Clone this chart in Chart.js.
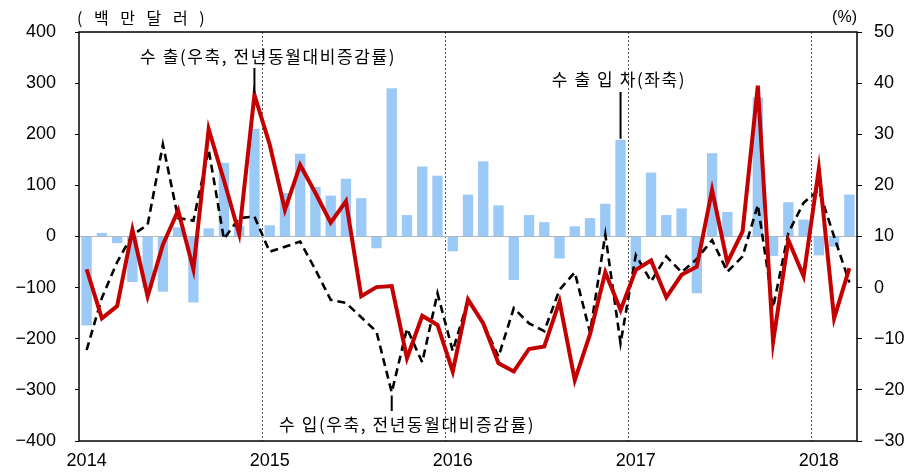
<!DOCTYPE html>
<html>
<head>
<meta charset="utf-8">
<script src="https://cdn.jsdelivr.net/npm/chart.js@4"></script>
<style>
  body { margin: 0; background: #fff; }
  canvas { display: block; }
</style>
</head>
<body>
<canvas id="tradeChart" width="913" height="472"></canvas>
<script>
const years = ["2014", "2015", "2016", "2017", "2018"];
const monthsInLastYear = 3;

// 수출입차 (백만달러, 좌축)
const balance = [
  -174, 7, -13, -89, -100, -108, 18, -129, 16, 144, 21, 211,
  22, 85, 162, 97, 80, 113, 75, -23, 290, 42, 137, 119,
  -29, 82, 147, 61, -85, 42, 28, -43, 20, 36, 64, 189,
  -65, 125, 42, 55, -111, 163, 48, 2, 272, -38, 67, 33,
  -37, -20, 82,
];

// 수출 전년동월대비 증감률 (%, 우축)
const exportGrowth = [
  3.6, -6.0, -3.6, 11.3, -1.7, 8.4, 15.1, 3.6, 31.0, 21.0, 10.5, 37.7,
  28.0, 15.2, 24.0, 18.5, 12.7, 16.9, -1.7, 0.1, 0.3, -13.8, -5.5, -7.3,
  -16.4, -2.3, -7.0, -14.8, -16.4, -12.0, -11.5, -2.7, -18.1, -9.1, 3.0, -4.4,
  3.5, 5.3, -1.9, 2.5, 4.1, 19.1, 4.9, 11.0, 39.5, -10.6, 9.3, 2.2,
  23.2, -6.0, 3.8,
];

// 수입 전년동월대비 증감률 (%, 우축)
const importGrowth = [
  -12.2, -2.0, 5.0, 10.3, 12.3, 28.0, 13.6, 13.1, 27.0, 9.5, 13.6, 13.9,
  7.0, 8.0, 9.0, 3.5, -2.4, -3.0, -5.8, -8.6, -20.5, -8.0, -14.6, -1.1,
  -12.4, -2.5, -7.0, -13.5, -4.0, -7.0, -8.5, -0.4, 3.0, -8.8, 10.4, -10.9,
  6.4, 1.2, 6.1, 3.0, 5.6, 9.3, 3.1, 6.1, 16.2, -3.9, 10.7, 16.6,
  19.1, 10.0, 1.0,
];

const leftTicks = { min: -400, max: 400, step: 100 };
const rightTicks = { min: -30, max: 50, step: 10 };

const labels = [];
years.forEach((y, yi) => {
  const n = yi === years.length - 1 ? monthsInLastYear : 12;
  for (let m = 1; m <= n; m++) labels.push(y + "-" + String(m).padStart(2, "0"));
});

const KR = '"Noto Sans CJK KR", sans-serif';
const NUM = '"Liberation Sans", Arial, sans-serif';

function minus(v) {
  return v < 0 ? "\u2212" + Math.abs(v) : String(v);
}

const annotations = {
  id: "annotations",
  afterDraw(chart) {
    const { ctx, chartArea } = chart;
    const x = chart.scales.x;
    const yR = chart.scales.y1;
    const yL = chart.scales.y;
    ctx.save();

    // frame
    ctx.strokeStyle = "#000";
    ctx.lineWidth = 1.5;
    ctx.strokeRect(chartArea.left, chartArea.top, chartArea.right - chartArea.left, chartArea.bottom - chartArea.top);

    ctx.fillStyle = "#000";
    ctx.textBaseline = "middle";
    ctx.font = "16px " + KR;
    ctx.textAlign = "left";
    ctx.letterSpacing = "4px";
    ctx.fillText("( 백 만 달 러 )", 77, 18);
    ctx.letterSpacing = "0px";
    ctx.textAlign = "right";
    ctx.font = "16px " + NUM;
    ctx.fillText("(%)", 857, 18);

    ctx.font = "17px " + KR;
    ctx.letterSpacing = "1.6px";
    ctx.textAlign = "center";
    ctx.fillText("수 출(우축, 전년동월대비증감률)", 268, 57);
    ctx.fillText("수 출 입 차(좌축)", 619, 80);
    ctx.fillText("수 입(우축, 전년동월대비증감률)", 407, 425);
    ctx.letterSpacing = "0px";

    // leader lines
    ctx.lineWidth = 2;
    ctx.strokeStyle = "#000";
    ctx.beginPath();
    let px = x.getPixelForValue(11);
    ctx.moveTo(px, 68);
    ctx.lineTo(px, yR.getPixelForValue(exportGrowth[11]) - 2);
    px = x.getPixelForValue(35);
    ctx.moveTo(px, 92);
    ctx.lineTo(px, yL.getPixelForValue(balance[35]) - 1);
    px = x.getPixelForValue(20);
    ctx.moveTo(px, yR.getPixelForValue(importGrowth[20]) + 3);
    ctx.lineTo(px, 411);
    ctx.stroke();
    ctx.restore();
  },
};

new Chart(document.getElementById("tradeChart"), {
  data: {
    labels: labels,
    datasets: [
      {
        type: "line",
        label: "수출",
        data: exportGrowth,
        yAxisID: "y1",
        borderColor: "#c40000",
        borderWidth: 4,
        pointRadius: 0,
        tension: 0,
        order: 1,
      },
      {
        type: "line",
        label: "수입",
        data: importGrowth,
        yAxisID: "y1",
        borderColor: "#000",
        borderWidth: 2.6,
        borderDash: [8, 5],
        pointRadius: 0,
        tension: 0,
        order: 2,
      },
      {
        type: "bar",
        label: "수출입차",
        data: balance,
        yAxisID: "y",
        backgroundColor: "#9ccaf6",
        categoryPercentage: 1,
        barPercentage: 0.68,
        order: 3,
      },
    ],
  },
  options: {
    responsive: false,
    animation: false,
    layout: { padding: { top: 32, left: 0, right: 0, bottom: 0 } },
    plugins: { legend: { display: false }, tooltip: { enabled: false } },
    scales: {
      x: {
        offset: true,
        afterFit: (s) => { s.height = 31; },
        grid: {
          offset: true,
          drawTicks: false,
          lineWidth: 1,
          color: (c) => (c.index > 0 && c.index % 12 === 0 ? "#555" : "rgba(0,0,0,0)"),
        },
        border: { display: false, dash: [2, 2] },
        ticks: {
          autoSkip: false,
          maxRotation: 0,
          padding: 9,
          color: "#000",
          font: { family: NUM, size: 18 },
          callback: function (v, i) {
            const l = this.getLabelForValue(v);
            return l.endsWith("-01") ? l.slice(0, 4) : "";
          },
        },
      },
      y: {
        position: "left",
        min: leftTicks.min,
        max: leftTicks.max,
        afterFit: (s) => { s.width = 79; },
        grid: {
          drawOnChartArea: true,
          tickLength: 4,
          tickColor: "#000",
          color: (c) => (c.tick && c.tick.value === 0 ? "#a9b7c6" : "rgba(0,0,0,0)"),
        },
        border: { display: false },
        ticks: {
          stepSize: leftTicks.step,
          padding: 19,
          color: "#000",
          font: { family: NUM, size: 18 },
          callback: (v) => minus(v),
        },
      },
      y1: {
        position: "right",
        min: rightTicks.min,
        max: rightTicks.max,
        afterFit: (s) => { s.width = 56; },
        grid: { drawOnChartArea: false, tickLength: 5, tickColor: "#000" },
        border: { display: false },
        ticks: {
          stepSize: rightTicks.step,
          padding: 12,
          color: "#000",
          font: { family: NUM, size: 18 },
          callback: (v) => minus(v),
        },
      },
    },
  },
  plugins: [annotations],
});
</script>
</body>
</html>
